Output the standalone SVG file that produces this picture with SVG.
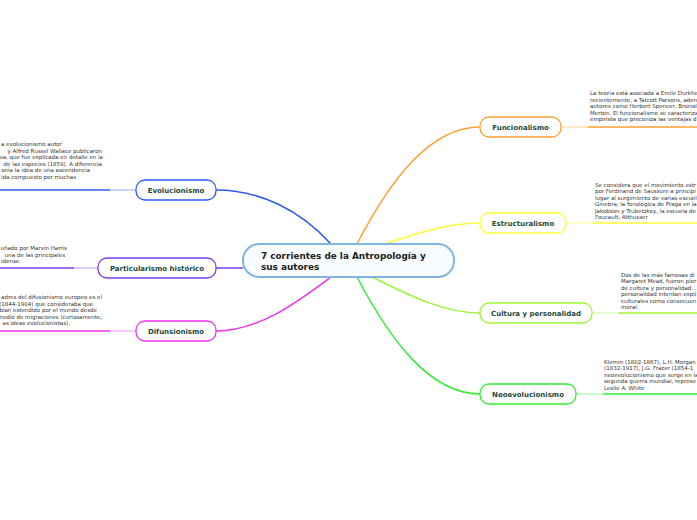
<svg xmlns="http://www.w3.org/2000/svg" width="697" height="520" viewBox="0 0 697 520">
<style>
.n{fill:#ffffff;stroke-width:1.3}
.nt{font-family:"DejaVu Sans",Verdana,sans-serif;font-weight:bold;font-size:7px;fill:#1d4a3b;text-anchor:middle}
.d{font-family:"DejaVu Sans",Verdana,sans-serif;font-size:5.5px;fill:#333333}
.de{font-family:"DejaVu Sans",Verdana,sans-serif;font-size:5.5px;fill:#333333;text-anchor:end}
.c{fill:none;stroke-width:1.5}
.f{fill:none;stroke-width:1.5;stroke-opacity:0.35}
</style>
<rect width="697" height="520" fill="#ffffff"/>
<g id="connectors">
<path class="c" stroke="#2d5cf5" d="M331,244 C300,210 260,190 216,190"/>
<path class="c" stroke="#7a3cf5" d="M243,268 L216,268"/>
<path class="c" stroke="#f032f0" d="M331,277 C300,300 260,331 216,331"/>
<path class="c" stroke="#ffa030" d="M357,244 C390,180 430,127 480,127"/>
<path class="c" stroke="#ffff33" d="M385,244 C420,232 450,223 480,223"/>
<path class="c" stroke="#9cf536" d="M372,277 C410,296 445,313 480,313"/>
<path class="c" stroke="#33ee33" d="M357,277 C390,340 430,394 480,394"/>
<path class="f" stroke="#2d5cf5" d="M136,190 L110,190"/>
<path class="c" stroke="#2d5cf5" d="M110,190 L0,190"/>
<path class="f" stroke="#7a3cf5" d="M98,268 L74,268"/>
<path class="c" stroke="#7a3cf5" d="M74,268 L0,268"/>
<path class="f" stroke="#f032f0" d="M136,331 L110,331"/>
<path class="c" stroke="#f032f0" d="M110,331 L0,331"/>
<path class="f" stroke="#ffa030" d="M561,127 L588,127"/>
<path class="c" stroke="#ffa030" d="M588,127 L697,127"/>
<path class="f" stroke="#ffff33" d="M566,223 L593,223"/>
<path class="c" stroke="#ffff33" d="M593,223 L697,223"/>
<path class="f" stroke="#9cf536" d="M592,313 L619,313"/>
<path class="c" stroke="#9cf536" d="M619,313 L697,313"/>
<path class="f" stroke="#33ee33" d="M576,394 L603,394"/>
<path class="c" stroke="#33ee33" d="M603,394 L697,394"/>
</g>
<g id="center">
<rect x="243" y="244" width="211" height="33" rx="16" fill="#f8fbff" stroke="#80b5e2" stroke-width="2"/>
<text x="261" y="258.5" font-family="'DejaVu Sans',Verdana,sans-serif" font-weight="bold" font-size="8.9" fill="#222222">7 corrientes de la Antropología y</text>
<text x="261" y="270" font-family="'DejaVu Sans',Verdana,sans-serif" font-weight="bold" font-size="8.9" fill="#222222">sus autores</text>
</g>
<g id="evolucionismo">
<rect class="n" x="136" y="180" width="80" height="20" rx="9" stroke="#2d5cf5"/>
<text class="nt" x="176" y="192.5">Evolucionismo</text>
<text class="de" x="62" y="146">a evolucionismo autor</text>
<text class="de" x="102" y="152.5">y Alfred Russel Wallace publicaron</text>
<text class="de" x="103" y="159">va, que fue explicada en detalle en la</text>
<text class="de" x="102" y="165.5">de las especies (1859). A diferencia</text>
<text class="de" x="90" y="172">onía la idea de una ascendencia</text>
<text class="de" x="76" y="178.5">ida compuesto por muchas</text>
</g>
<g id="particularismo">
<rect class="n" x="98" y="258" width="118" height="20" rx="9" stroke="#7a3cf5"/>
<text class="nt" x="157" y="270.5">Particularismo histórico</text>
<text class="de" x="67" y="250">uñado por Marvin Harris</text>
<text class="de" x="65" y="256.5">una de las principales</text>
<text class="de" x="21" y="263">idense.</text>
</g>
<g id="difunsionismo">
<rect class="n" x="136" y="321" width="80" height="20" rx="9" stroke="#f032f0"/>
<text class="nt" x="176" y="333.5">Difunsionismo</text>
<text class="de" x="102" y="299">adres del difusionismo europeo es el</text>
<text class="de" x="93" y="305.5">(1844-1904) que consideraba que</text>
<text class="de" x="97" y="312">bían estendido por el mundo desde</text>
<text class="de" x="102" y="318.5">medio de migraciones (curiosamente,</text>
<text class="de" x="70" y="325">as ideas evolucionistas).</text>
</g>
<g id="funcionalismo">
<rect class="n" x="480" y="117" width="81" height="20" rx="9" stroke="#ffa030"/>
<text class="nt" x="520.5" y="129.5">Funcionalismo</text>
<text class="d" x="590" y="95">La teoría está asociada a Émile Durkhe</text>
<text class="d" x="590" y="101.5">recientemente, a Talcott Parsons, aden</text>
<text class="d" x="590" y="108">autores como Herbert Spencer, Bronisl</text>
<text class="d" x="590" y="114.5">Merton. El funcionalismo se caracteriza</text>
<text class="d" x="590" y="121">empirista que preconiza las ventajas d</text>
</g>
<g id="estructuralismo">
<rect class="n" x="480" y="213" width="86" height="20" rx="9" stroke="#ffff33"/>
<text class="nt" x="523" y="225.5">Estructuralismo</text>
<text class="d" x="595" y="186.5">Se considera que el movimiento estr</text>
<text class="d" x="595" y="193">por Ferdinand de Saussure a principi</text>
<text class="d" x="595" y="199.5">lugar al surgimiento de varias escuel</text>
<text class="d" x="595" y="206">Ginebra, la fonológica de Praga en la</text>
<text class="d" x="595" y="212.5">Jakobson y Trubetzkoy, la escuela de</text>
<text class="d" x="595" y="219">Foucault, Althusser</text>
</g>
<g id="cultura">
<rect class="n" x="480" y="303" width="112" height="20" rx="9" stroke="#9cf536"/>
<text class="nt" x="536" y="315.5">Cultura y personalidad</text>
<text class="d" x="621" y="276.5">Dos de las más famosas di</text>
<text class="d" x="621" y="283">Margaret Mead, fueron pior</text>
<text class="d" x="621" y="289.5">de cultura y personalidad. .</text>
<text class="d" x="621" y="296">personalidad intentan expli</text>
<text class="d" x="621" y="302.5">culturales como consecuen</text>
<text class="d" x="621" y="309">moral.</text>
</g>
<g id="neoevolucionismo">
<rect class="n" x="480" y="384" width="96" height="20" rx="9" stroke="#33ee33"/>
<text class="nt" x="528" y="396.5">Neoevolucionismo</text>
<text class="d" x="604" y="363.5">Klemm (1802-1867), L.H. Morgan</text>
<text class="d" x="604" y="370">(1832-1917), J.G. Frazer (1854-1</text>
<text class="d" x="604" y="376.5">neoevolucionismo que surge en la</text>
<text class="d" x="604" y="383">segunda guerra mundial, represe</text>
<text class="d" x="604" y="389.5">Leslie A. White</text>
</g>
</svg>
